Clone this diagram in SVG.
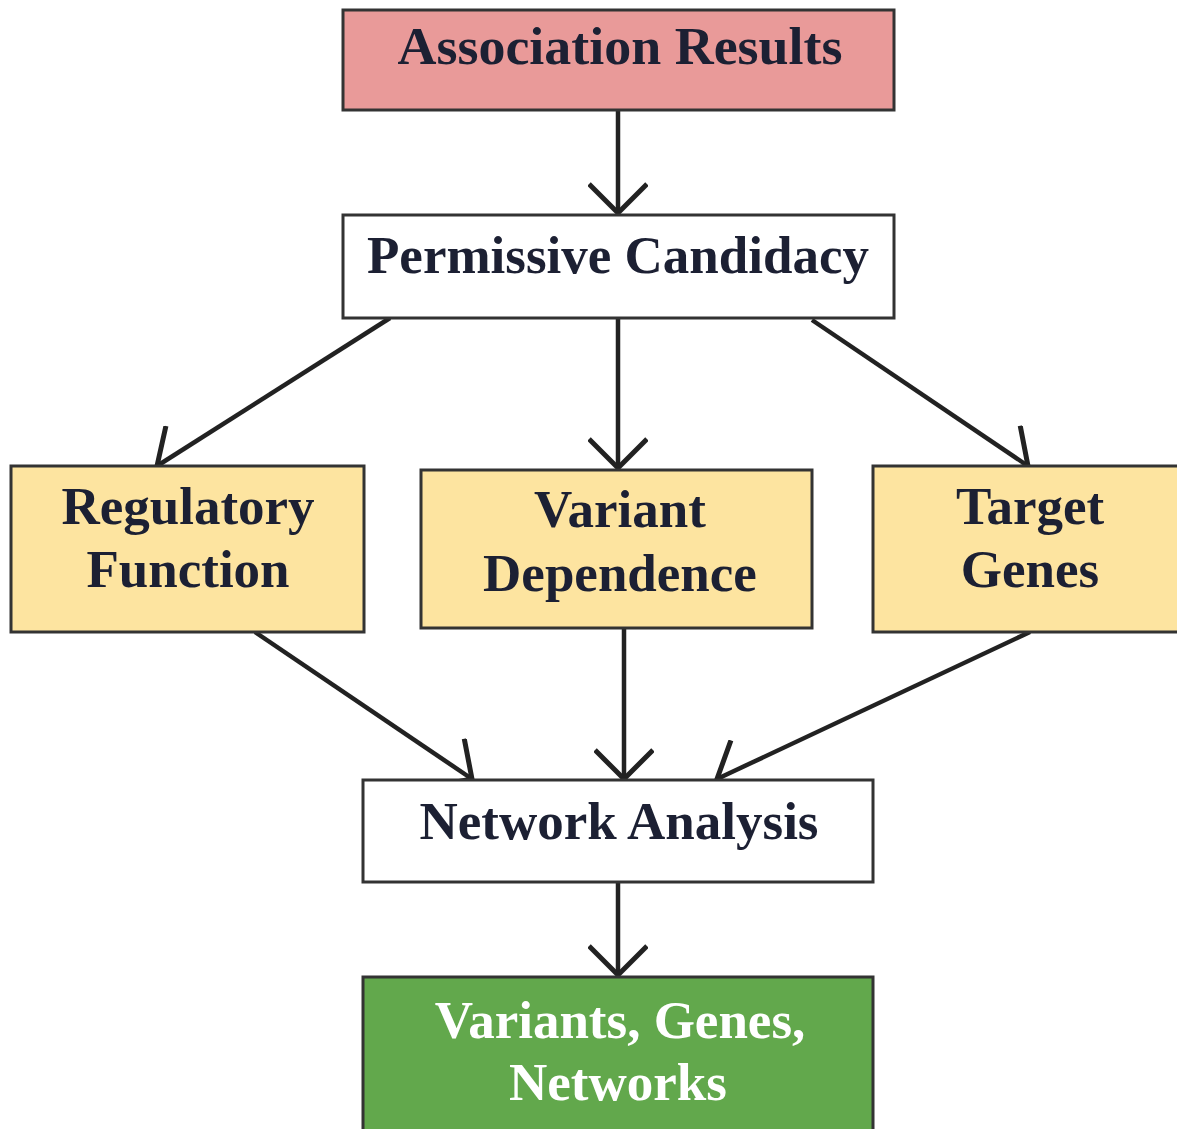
<svg xmlns="http://www.w3.org/2000/svg" width="1177" height="1129" viewBox="0 0 1177 1129">
<defs>
<style>
.box{stroke:#333;stroke-width:3}
.t{font-family:"Liberation Serif","Times New Roman",serif;font-weight:bold;font-size:53px;fill:#1c2033;text-anchor:middle}
.w{fill:#ffffff}
.c{stroke:#222;stroke-width:4.5;fill:none}
</style>
<marker id="ah" markerUnits="userSpaceOnUse" markerWidth="60" markerHeight="60" refX="40" refY="30" orient="auto" viewBox="0 0 60 60">
<path d="M11,1 L40,30 L11,59" fill="none" stroke="#222" stroke-width="5"/>
</marker>
</defs>
<rect width="1177" height="1129" fill="#fff"/>
<g id="connectors">
<line class="c" x1="618" y1="110" x2="618" y2="213" marker-end="url(#ah)"/>
<line class="c" x1="390" y1="318" x2="157" y2="466" marker-end="url(#ah)"/>
<line class="c" x1="618" y1="318" x2="618" y2="468" marker-end="url(#ah)"/>
<line class="c" x1="812" y1="320" x2="1028" y2="466" marker-end="url(#ah)"/>
<line class="c" x1="255" y1="632" x2="472" y2="779" marker-end="url(#ah)"/>
<line class="c" x1="624" y1="628" x2="624" y2="779" marker-end="url(#ah)"/>
<line class="c" x1="1030" y1="632" x2="717" y2="779" marker-end="url(#ah)"/>
<line class="c" x1="618" y1="882" x2="618" y2="975" marker-end="url(#ah)"/>
</g>
<g id="association-results">
<rect class="box" x="343" y="10" width="551" height="100" fill="#e99a99"/>
<text class="t" x="620" y="64" textLength="445" lengthAdjust="spacingAndGlyphs">Association Results</text>
</g>
<g id="permissive-candidacy">
<rect class="box" x="343" y="215" width="551" height="103" fill="#fff"/>
<text class="t" x="618" y="273">Permissive Candidacy</text>
</g>
<g id="regulatory-function">
<rect class="box" x="11" y="466" width="353" height="166" fill="#fde4a0"/>
<text class="t" x="188" y="524">Regulatory</text>
<text class="t" x="188" y="587">Function</text>
</g>
<g id="variant-dependence">
<rect class="box" x="421" y="470" width="391" height="158" fill="#fde4a0"/>
<text class="t" x="620" y="527">Variant</text>
<text class="t" x="620" y="591">Dependence</text>
</g>
<g id="target-genes">
<rect class="box" x="873" y="466" width="306" height="166" fill="#fde4a0"/>
<text class="t" x="1030" y="524">Target</text>
<text class="t" x="1030" y="587">Genes</text>
</g>
<g id="network-analysis">
<rect class="box" x="363" y="780" width="510" height="102" fill="#fff"/>
<text class="t" x="619" y="839">Network Analysis</text>
</g>
<g id="variants-genes-networks">
<rect class="box" x="363" y="977" width="510" height="154" fill="#62a84c"/>
<text class="t w" x="620" y="1038">Variants, Genes,</text>
<text class="t w" x="618" y="1100">Networks</text>
</g>
</svg>
